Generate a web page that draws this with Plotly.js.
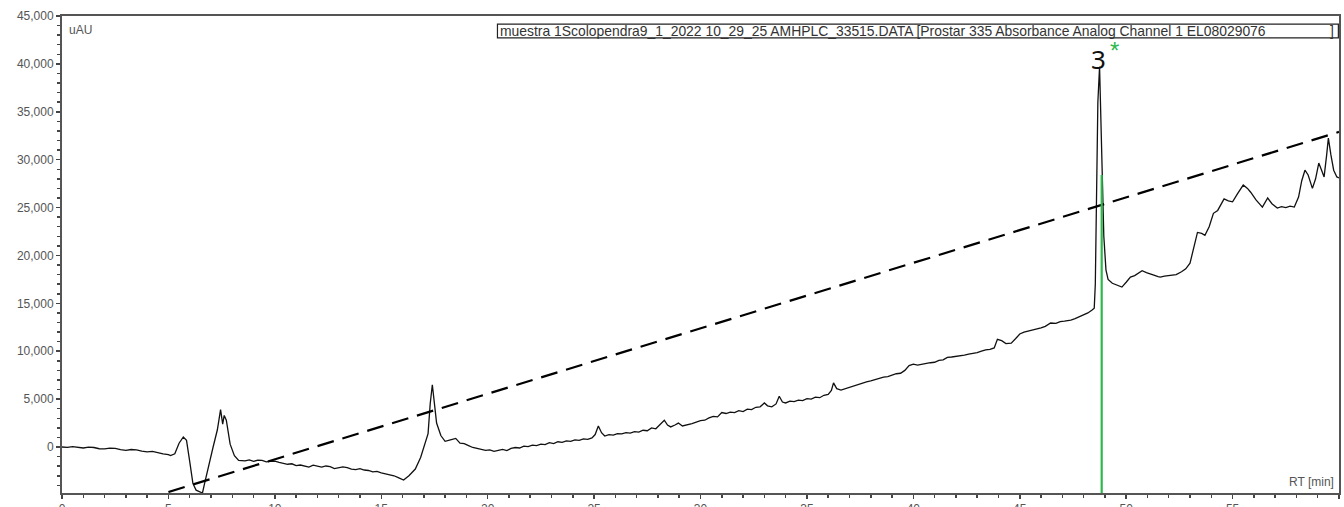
<!DOCTYPE html>
<html>
<head>
<meta charset="utf-8">
<script src="https://cdn.plot.ly/plotly-3.0.1.min.js"></script>
<style>html,body{margin:0;padding:0;background:#fff;}#chart{width:1344px;height:507px;}</style>
</head>
<body>
<div id="chart"></div>
<script>
// Retention time (min) and absorbance (uAU) of the chromatogram
const rtMin = [0,0.25,0.5,0.75,1.0,1.25,1.5,1.75,2.0,2.25,2.5,2.75,3.0,3.25,3.5,3.75,4.0,4.25,4.5,4.75,5.0,5.1,5.3,5.5,5.7,5.85,6.0,6.15,6.3,6.5,6.6,6.7,6.9,7.1,7.3,7.45,7.55,7.62,7.72,7.9,8.1,8.3,8.6,8.8,9.0,9.2,9.4,9.6,9.8,10.0,10.2,10.4,10.6,10.8,11.0,11.2,11.4,11.6,11.8,12.0,12.2,12.4,12.6,12.8,13.0,13.2,13.4,13.6,13.8,14.0,14.2,14.4,14.6,14.8,15.0,15.2,15.4,15.6,15.8,16.05,16.3,16.6,16.85,17.05,17.2,17.3,17.4,17.5,17.6,17.8,18.0,18.25,18.5,18.7,18.9,19.1,19.3,19.5,19.7,19.9,20.1,20.3,20.5,20.7,20.9,21.1,21.3,21.5,21.7,21.9,22.1,22.3,22.5,22.7,22.9,23.1,23.3,23.5,23.7,23.9,24.1,24.3,24.5,24.7,24.9,25.05,25.2,25.35,25.5,25.7,25.9,26.1,26.3,26.5,26.7,26.9,27.1,27.3,27.5,27.7,27.9,28.1,28.3,28.45,28.6,28.8,28.96,29.15,29.4,29.6,29.8,30.0,30.2,30.4,30.6,30.8,31.0,31.2,31.4,31.6,31.8,32.0,32.2,32.4,32.6,32.8,33.0,33.15,33.35,33.55,33.7,33.85,34.0,34.2,34.4,34.6,34.8,35.0,35.2,35.4,35.6,35.8,36.0,36.15,36.25,36.4,36.6,36.8,37.0,37.2,37.4,37.6,37.8,38.0,38.2,38.4,38.6,38.8,39.0,39.2,39.4,39.6,39.8,40.0,40.2,40.4,40.6,40.8,41.0,41.2,41.4,41.6,41.8,42.0,42.2,42.4,42.6,42.8,43.0,43.2,43.4,43.6,43.8,43.95,44.15,44.35,44.6,44.8,45.0,45.2,45.4,45.6,45.8,46.0,46.2,46.45,46.7,46.9,47.1,47.4,47.6,47.8,48.0,48.2,48.4,48.5,48.55,48.6,48.67,48.75,48.82,48.88,48.95,49.05,49.15,49.35,49.55,49.8,50.0,50.2,50.4,50.6,50.75,50.95,51.15,51.3,51.5,51.6,51.8,52.1,52.35,52.6,52.8,53.0,53.2,53.35,53.55,53.7,53.9,54.1,54.3,54.45,54.6,54.8,55.0,55.25,55.5,55.7,55.85,56.1,56.4,56.65,56.85,57.1,57.3,57.5,57.7,57.9,58.1,58.25,58.4,58.55,58.75,58.9,59.05,59.2,59.3,59.42,59.5,59.62,59.75,59.9,60];
const absUAU = [0,-30,50,-60,-100,-20,-50,-180,-200,-120,-150,-280,-350,-260,-300,-420,-500,-450,-600,-720,-800,-900,-700,400,1050,700,-1500,-3800,-4500,-4700,-4800,-3800,-1800,0,1800,3900,2400,3300,2800,300,-900,-1400,-1450,-1350,-1500,-1380,-1400,-1550,-1500,-1480,-1600,-1700,-1800,-1750,-1950,-1880,-2000,-2100,-1900,-2000,-2100,-1980,-2050,-2250,-2200,-2080,-2150,-2300,-2350,-2250,-2400,-2450,-2600,-2550,-2700,-2800,-2850,-3000,-3200,-3450,-3000,-2300,-1100,200,1400,4500,6500,4500,2500,1200,600,750,900,400,350,150,-50,-150,-250,-350,-300,-450,-350,-250,-380,-150,-50,-100,100,50,200,150,300,250,450,350,550,480,650,600,750,700,850,800,950,1300,2200,1500,1150,1300,1250,1400,1380,1500,1450,1600,1550,1750,1700,2000,1900,2300,2800,2300,2100,2300,2500,2200,2300,2450,2600,2750,2800,3050,3200,3150,3600,3500,3650,3600,3800,3700,3950,3900,4150,4200,4600,4300,4200,4500,5300,4700,4600,4800,4750,4900,4850,5050,5000,5200,5150,5400,5500,5900,6700,6100,5950,6100,6200,6350,6500,6650,6800,6900,7050,7150,7300,7350,7500,7650,7700,8000,8500,8650,8550,8650,8700,8800,8850,9050,9100,9350,9400,9450,9550,9600,9700,9750,9850,10000,10150,10200,10350,11250,11100,10800,10850,11300,11800,12000,12100,12250,12350,12450,12600,12950,12900,13100,13150,13250,13400,13600,13800,14000,14300,14500,17000,28000,36000,39700,34000,27500,22000,18500,17500,17100,16900,16700,17200,17750,17900,18200,18400,18200,18100,17950,17800,17750,17850,17950,18000,18300,18600,19200,21000,22400,22300,22100,23000,24400,24700,25300,25900,25700,25600,26500,27350,27000,26600,25800,25050,26000,25400,24950,25100,25000,25150,25050,26100,27800,28900,28400,27000,28000,29650,28800,28200,30500,32250,30500,28900,28200,28100];

// Dashed gradient line
const gradT = [5, 60];
const gradV = [-4700, 32900];

// Green peak marker line
const markT = [48.85, 48.85];
const markV = [28400, -4800];

// Peak label
const peakLabel = "3";
const peakT = 48.7;
const peakV = 39700;

const xTicks = [0,5,10,15,20,25,30,35,40,45,50,55,60];
const yTicks = [0,5000,10000,15000,20000,25000,30000,35000,40000,45000];
const legendText = "muestra 1Scolopendra9_1_2022 10_29_25 AMHPLC_33515.DATA [Prostar 335 Absorbance Analog Channel 1 EL08029076";

const traces = [
  {x: rtMin, y: absUAU, type: 'scatter', mode: 'lines', line: {color: '#111', width: 1.3}, hoverinfo: 'skip'},
  {x: gradT, y: gradV, type: 'scatter', mode: 'lines', line: {color: '#000', width: 2.2, dash: '17px,9px'}, hoverinfo: 'skip'},
  {x: markT, y: markV, type: 'scatter', mode: 'lines', line: {color: '#2db84d', width: 2.2}, hoverinfo: 'skip'}
];

const axisFont = {family: 'Liberation Sans, Arial, sans-serif', size: 12, color: '#555'};
const legFont = {family: 'Liberation Sans, Arial, sans-serif', size: 13.9, color: '#333'};

const layout = {
  width: 1344, height: 507,
  margin: {l: 62, r: 5, t: 16, b: 14},
  paper_bgcolor: '#fff', plot_bgcolor: '#fff',
  showlegend: false,
  xaxis: {
    range: [0, 60], tickvals: xTicks, ticktext: xTicks.map(String),
    showgrid: false, zeroline: false,
    showline: true, linecolor: '#555', linewidth: 2, mirror: true,
    ticks: 'outside', ticklen: 4, tickcolor: '#444', tickwidth: 1.5,
    minor: {dtick: 1, ticklen: 3, tickcolor: '#444', ticks: 'outside'},
    tickfont: axisFont
  },
  yaxis: {
    range: [-4800, 45000], tickvals: yTicks, ticktext: yTicks.map(v => v.toLocaleString('en-US')),
    showgrid: false, zeroline: false,
    showline: true, linecolor: '#555', linewidth: 2, mirror: true,
    ticks: 'outside', ticklen: 4, tickcolor: '#444', tickwidth: 1.5,
    minor: {dtick: 1000, ticklen: 3, tickcolor: '#444', ticks: 'outside'},
    tickfont: axisFont
  },
  shapes: [
    {type: 'rect', xref: 'paper', yref: 'paper', x0: 0.341, x1: 0.9995, y0: 0.954, y1: 0.983, line: {color: '#222', width: 1.2}, fillcolor: 'rgba(0,0,0,0)'}
  ],
  annotations: [
    {xref: 'paper', yref: 'paper', x: 0.004, y: 0.97, xanchor: 'left', yanchor: 'middle', text: 'uAU', showarrow: false, font: axisFont},
    {xref: 'paper', yref: 'paper', x: 0.998, y: 0.005, xanchor: 'right', yanchor: 'bottom', text: 'RT [min]', showarrow: false, font: axisFont},
    {xref: 'paper', yref: 'paper', x: 0.342, y: 0.9686, xanchor: 'left', yanchor: 'middle', text: legendText, showarrow: false, font: legFont, borderpad: 0},
    {xref: 'paper', yref: 'paper', x: 0.997, y: 0.9686, xanchor: 'right', yanchor: 'middle', text: ']', showarrow: false, font: legFont, borderpad: 0},
    {x: peakT, y: peakV, xanchor: 'center', yanchor: 'bottom', text: peakLabel, showarrow: false, font: {family: 'Noto Sans, sans-serif', size: 26, color: '#111'}, yshift: -12},
    {x: peakT, y: peakV, xanchor: 'left', yanchor: 'bottom', text: '*', showarrow: false, font: {family: 'Liberation Sans, Arial, sans-serif', size: 24, color: '#2db84d'}, xshift: 9, yshift: 1}
  ]
};

Plotly.newPlot('chart', traces, layout, {displayModeBar: false, staticPlot: true});
</script>
</body>
</html>
